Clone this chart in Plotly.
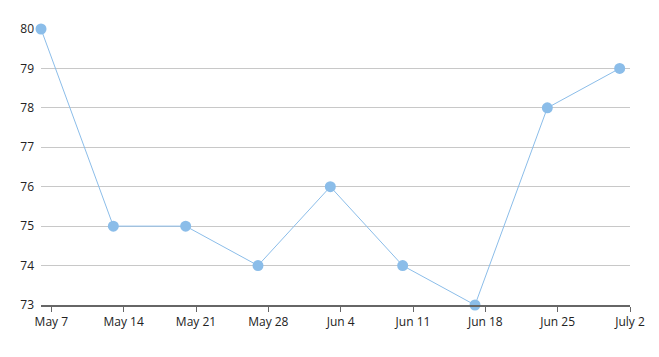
import plotly.graph_objects as go

dates = ["2023-05-06", "2023-05-13", "2023-05-20", "2023-05-27", "2023-06-03",
         "2023-06-10", "2023-06-17", "2023-06-24", "2023-07-01"]
values = [80, 75, 75, 74, 76, 74, 73, 78, 79]
tick_dates = ["2023-05-07", "2023-05-14", "2023-05-21", "2023-05-28", "2023-06-04",
              "2023-06-11", "2023-06-18", "2023-06-25", "2023-07-02"]
tick_labels = ["May 7", "May 14", "May 21", "May 28", "Jun 4",
               "Jun 11", "Jun 18", "Jun 25", "July 2"]
y_ticks = [73, 74, 75, 76, 77, 78, 79, 80]

color = "#8bbde9"

fig = go.Figure(go.Scatter(
    x=dates, y=values, mode="lines+markers",
    line=dict(color=color, width=1),
    marker=dict(color=color, size=11),
    cliponaxis=False,
))

fig.update_layout(
    width=651, height=349,
    margin=dict(l=33, r=29, t=17, b=52),
    paper_bgcolor="white", plot_bgcolor="white",
    showlegend=False,
    font=dict(family="Open Sans, DejaVu Sans, sans-serif", size=12, color="#222"),
)
fig.update_xaxes(
    type="date", range=["2023-05-06", "2023-07-02"],
    tickvals=tick_dates, ticktext=tick_labels,
    showgrid=False, showline=True, linecolor="#666", linewidth=2,
    ticks="outside", ticklen=5, tickcolor="#666", tickwidth=1,
    zeroline=False, tickfont=dict(size=12),
)
fig.update_yaxes(
    range=[73, 80], tickvals=y_ticks,
    showgrid=True, gridcolor="#c8c8c8", gridwidth=1,
    zeroline=False, showline=False, ticks="", ticklabelstandoff=6,
    tickfont=dict(size=12),
)

fig.write_html("out.html")
